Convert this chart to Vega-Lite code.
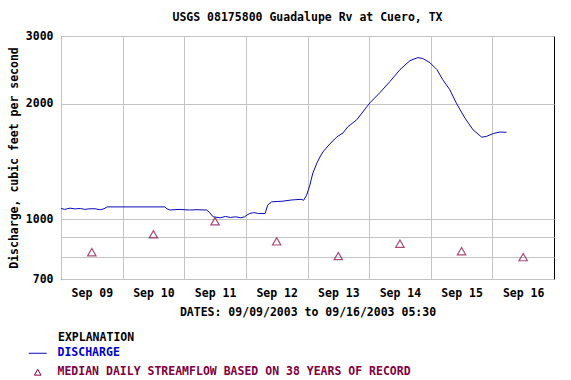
{
  "$schema": "https://vega.github.io/schema/vega-lite/v6.json",
  "autosize": {"type": "none"},
  "padding": {"left": 61, "top": 36, "right": 17, "bottom": 101},
  "width": 493,
  "height": 243,
  "background": "white",
  "title": {
    "text": "USGS 08175800 Guadalupe Rv at Cuero, TX",
    "font": "DejaVu Sans Mono", "fontSize": 11.5, "fontWeight": "bold", "color": "black",
    "anchor": "middle", "offset": 7
  },
  "config": {
    "view": {"stroke": "black", "strokeWidth": 1},
    "axis": {
      "labelFont": "DejaVu Sans Mono", "labelFontSize": 11.5, "labelFontWeight": "bold", "labelColor": "black",
      "titleFont": "DejaVu Sans Mono", "titleFontSize": 11.5, "titleFontWeight": "bold", "titleColor": "black",
      "gridColor": "#c4c4c4", "gridWidth": 1, "domain": false, "tickColor": "black"
    }
  },
  "datasets": {
    "discharge": [
      {"t": "2003-09-09T00:00Z", "q": 1068}, {"t": "2003-09-09T01:30Z", "q": 1062},
      {"t": "2003-09-09T03:30Z", "q": 1070}, {"t": "2003-09-09T05:30Z", "q": 1065},
      {"t": "2003-09-09T07:30Z", "q": 1068}, {"t": "2003-09-09T09:15Z", "q": 1062},
      {"t": "2003-09-09T11:15Z", "q": 1066}, {"t": "2003-09-09T13:15Z", "q": 1066},
      {"t": "2003-09-09T15:15Z", "q": 1060}, {"t": "2003-09-09T16:45Z", "q": 1066},
      {"t": "2003-09-09T18:00Z", "q": 1078}, {"t": "2003-09-10T16:30Z", "q": 1078},
      {"t": "2003-09-10T17:15Z", "q": 1066}, {"t": "2003-09-10T18:30Z", "q": 1058},
      {"t": "2003-09-10T22:00Z", "q": 1062}, {"t": "2003-09-11T02:00Z", "q": 1058},
      {"t": "2003-09-11T05:00Z", "q": 1060}, {"t": "2003-09-11T08:45Z", "q": 1058},
      {"t": "2003-09-11T10:00Z", "q": 1040}, {"t": "2003-09-11T11:15Z", "q": 1016},
      {"t": "2003-09-11T14:00Z", "q": 1010}, {"t": "2003-09-11T16:00Z", "q": 1018},
      {"t": "2003-09-11T18:00Z", "q": 1012}, {"t": "2003-09-11T20:00Z", "q": 1016},
      {"t": "2003-09-11T22:00Z", "q": 1010}, {"t": "2003-09-11T23:30Z", "q": 1016},
      {"t": "2003-09-12T00:45Z", "q": 1030}, {"t": "2003-09-12T01:30Z", "q": 1036},
      {"t": "2003-09-12T03:00Z", "q": 1042}, {"t": "2003-09-12T05:00Z", "q": 1036},
      {"t": "2003-09-12T07:30Z", "q": 1036}, {"t": "2003-09-12T08:30Z", "q": 1090},
      {"t": "2003-09-12T10:00Z", "q": 1111}, {"t": "2003-09-12T14:00Z", "q": 1115},
      {"t": "2003-09-12T18:00Z", "q": 1124}, {"t": "2003-09-12T21:30Z", "q": 1128},
      {"t": "2003-09-12T22:30Z", "q": 1122}, {"t": "2003-09-12T23:40Z", "q": 1157},
      {"t": "2003-09-13T00:55Z", "q": 1228}, {"t": "2003-09-13T02:05Z", "q": 1320},
      {"t": "2003-09-13T03:40Z", "q": 1402}, {"t": "2003-09-13T04:50Z", "q": 1453},
      {"t": "2003-09-13T06:00Z", "q": 1498}, {"t": "2003-09-13T08:40Z", "q": 1571},
      {"t": "2003-09-13T11:25Z", "q": 1639}, {"t": "2003-09-13T13:50Z", "q": 1679},
      {"t": "2003-09-13T15:40Z", "q": 1741}, {"t": "2003-09-13T19:10Z", "q": 1816},
      {"t": "2003-09-13T23:05Z", "q": 1963}, {"t": "2003-09-14T00:20Z", "q": 2011},
      {"t": "2003-09-14T04:10Z", "q": 2136}, {"t": "2003-09-14T08:05Z", "q": 2283},
      {"t": "2003-09-14T12:00Z", "q": 2452}, {"t": "2003-09-14T15:55Z", "q": 2589},
      {"t": "2003-09-14T19:00Z", "q": 2636}, {"t": "2003-09-14T20:55Z", "q": 2621},
      {"t": "2003-09-14T23:40Z", "q": 2558}, {"t": "2003-09-15T02:25Z", "q": 2452},
      {"t": "2003-09-15T04:40Z", "q": 2310}, {"t": "2003-09-15T07:25Z", "q": 2175},
      {"t": "2003-09-15T10:00Z", "q": 2005}, {"t": "2003-09-15T13:20Z", "q": 1834},
      {"t": "2003-09-15T16:30Z", "q": 1710}, {"t": "2003-09-15T19:50Z", "q": 1637},
      {"t": "2003-09-15T21:40Z", "q": 1644}, {"t": "2003-09-16T00:20Z", "q": 1673},
      {"t": "2003-09-16T02:55Z", "q": 1688}, {"t": "2003-09-16T05:30Z", "q": 1685}
    ],
    "median": [
      {"t": "2003-09-09T12:00Z", "q": 822}, {"t": "2003-09-10T12:00Z", "q": 915},
      {"t": "2003-09-11T12:00Z", "q": 989}, {"t": "2003-09-12T12:00Z", "q": 877},
      {"t": "2003-09-13T12:00Z", "q": 803}, {"t": "2003-09-14T12:00Z", "q": 865},
      {"t": "2003-09-15T12:00Z", "q": 827}, {"t": "2003-09-16T12:00Z", "q": 798}
    ]
  },
  "layer": [
    {
      "data": {"name": "discharge"},
      "mark": {"type": "line", "strokeWidth": 1, "interpolate": "linear"},
      "encoding": {
        "x": {
          "field": "t", "type": "temporal",
          "scale": {"type": "utc", "domain": [1063065600000, 1063756800000], "nice": false},
          "axis": {
            "orient": "bottom",
            "values": [1063065600000, 1063152000000, 1063238400000, 1063324800000, 1063411200000, 1063497600000, 1063584000000, 1063670400000],
            "format": "%b %d",
            "ticks": false,
            "tickSize": 0,
            "labelOffset": 30.8,
            "labelPadding": 8,
            "labelFlush": false,
            "labelOverlap": false,
            "grid": true,
            "title": "DATES: 09/09/2003 to 09/16/2003 05:30",
            "titlePadding": 8
          }
        },
        "y": {
          "field": "q", "type": "quantitative",
          "scale": {"type": "log", "domain": [700, 3000], "nice": false},
          "axis": {
            "values": [700, 800, 900, 1000, 2000, 3000],
            "labelExpr": "(datum.value == 800 || datum.value == 900) ? '' : format(datum.value, 'd')",
            "ticks": false,
            "labelPadding": 8,
            "grid": true,
            "title": "Discharge, cubic feet per second",
            "titlePadding": 6
          }
        },
        "color": {
          "datum": "DISCHARGE",
          "scale": {
            "domain": ["DISCHARGE", "MEDIAN DAILY STREAMFLOW BASED ON 38 YEARS OF RECORD"],
            "range": ["#0a0ab4", "#800040"]
          },
          "legend": {
            "orient": "none", "legendX": -29, "legendY": 296,
            "title": "EXPLANATION",
            "titleFont": "DejaVu Sans Mono", "titleFontSize": 11.5, "titleFontWeight": "bold", "titleColor": "black",
            "titlePadding": 4,
            "labelFont": "DejaVu Sans Mono", "labelFontSize": 11.5, "labelFontWeight": "bold",
            "labelOffset": 14, "rowPadding": 6, "symbolSize": 324, "symbolStrokeWidth": 1,
            "labelLimit": 500,
            "encode": {
              "symbols": {"update": {
                "shape": {"signal": "datum.label == 'DISCHARGE' ? 'stroke' : 'triangle-up'"},
                "size": {"signal": "datum.label == 'DISCHARGE' ? 324 : 45"},
                "stroke": {"signal": "datum.label == 'DISCHARGE' ? '#0a0ab4' : '#800040'"},
                "fill": {"value": "transparent"},
                "strokeWidth": {"value": 1}
              }},
              "labels": {"update": {
                "text": {"signal": "datum.label == 'DISCHARGE' ? '\u00a0\u00a0DISCHARGE' : datum.label"},
                "fill": {"signal": "datum.label == 'DISCHARGE' ? '#0000cc' : '#800040'"}
              }},
              "title": {"update": {"dx": {"value": 26}}}
            }
          }
        }
      }
    },
    {
      "data": {"name": "median"},
      "mark": {"type": "point", "shape": "triangle-up", "size": 70, "filled": false, "strokeWidth": 1.2},
      "encoding": {
        "x": {"field": "t", "type": "temporal"},
        "y": {"field": "q", "type": "quantitative"},
        "color": {"datum": "MEDIAN DAILY STREAMFLOW BASED ON 38 YEARS OF RECORD"}
      }
    }
  ]
}
